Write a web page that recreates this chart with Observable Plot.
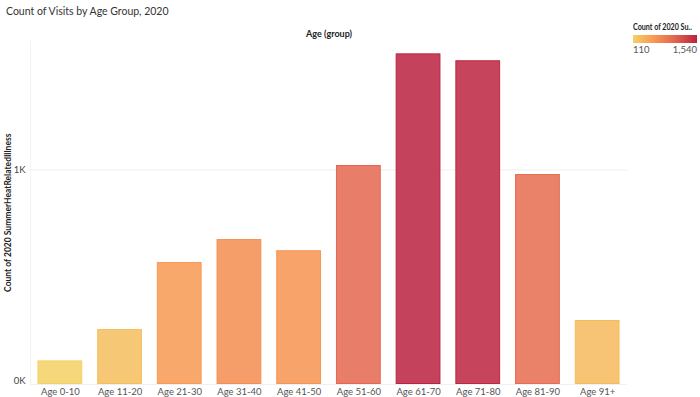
<!DOCTYPE html>
<html><head><meta charset="utf-8">
<script src="https://cdn.jsdelivr.net/npm/d3@7"></script>
<script src="https://cdn.jsdelivr.net/npm/@observablehq/plot@0.6"></script>
<style>
body{margin:0;background:#fff;font-family:Lato,"Open Sans",sans-serif;}
#wrap{position:relative;width:700px;height:397px;overflow:hidden;background:#fff}
#title{position:absolute;left:6px;top:5px;font-size:10.5px;color:#333;white-space:nowrap}
#chart{position:absolute;left:0;top:22px}
#legend{position:absolute;left:633px;top:22px;width:66px;font-size:9px;color:#555}
#legend .lt{font-weight:bold;color:#222;white-space:nowrap;font-size:8.5px;transform:scaleX(0.84);transform-origin:left center}
#ramp{width:64px;height:8px;margin-top:3px}
#legend .ll{display:flex;justify-content:space-between;width:64px;margin-top:1px;font-size:9.5px}
</style></head>
<body>
<div id="wrap">
  <div id="title">Count of Visits by Age Group, 2020</div>
  <div id="chart"></div>
  <div id="legend"><div class="lt">Count of 2020 Su..</div><div id="ramp"></div><div class="ll"><span id="lmin"></span><span id="lmax"></span></div></div>
</div>
<script>
const ageGroups = ["Age 0-10","Age 11-20","Age 21-30","Age 31-40","Age 41-50","Age 51-60","Age 61-70","Age 71-80","Age 81-90","Age 91+"];
const visits = [110, 256, 568, 675, 623, 1020, 1540, 1508, 978, 298];
const yTicks = [0, 1000];
const colorStops = ["#f4d166", "#f89852", "#e36650", "#ba2340"];
const stopPos = [0, 0.33, 0.65, 1];

const data = ageGroups.map((a, i) => ({age: a, visits: visits[i]}));
const vmin = d3.min(visits), vmax = d3.max(visits);
const colorDomain = stopPos.map(t => vmin + t * (vmax - vmin));
const fmtK = d => d / 1000 + "K";

const chart = Plot.plot({
  width: 700, height: 375,
  marginLeft: 30, marginRight: 73, marginTop: 18.5, marginBottom: 13,
  style: {fontFamily: "Lato, 'Open Sans', sans-serif", fontSize: "9.5px", color: "#555", background: "transparent"},
  x: {domain: ageGroups, paddingInner: 0.25, paddingOuter: 0.125, round: false, label: null, tickSize: 0, tickPadding: 4},
  y: {domain: [0, 1600], label: null, axis: null},
  color: {type: "linear", domain: colorDomain, range: colorStops, interpolate: "rgb"},
  marks: [
    Plot.ruleY(yTicks, {stroke: "#f0f0f0"}),
    Plot.frame({anchor: "left", stroke: "#f3f3f3"}),
    Plot.axisY([yTicks[1]], {tickSize: 0, tickPadding: 5, tickFormat: fmtK, label: null, fill: "#444"}),
    Plot.axisY([yTicks[0]], {tickSize: 0, tickPadding: 5, tickFormat: fmtK, label: null, fill: "#444", dy: -4}),
    Plot.barY(data, {x: "age", y: "visits", fill: "visits", fillOpacity: 0.86, stroke: "visits", strokeWidth: 1, inset: 0.5}),
    Plot.text(["Age (group)"], {frameAnchor: "top", dy: -10.5, fontWeight: "bold", fill: "#222", fontSize: 9}),
    Plot.text(["Count of 2020 SummerHeatRelatedIllness"], {frameAnchor: "left", dx: -22, rotate: -90, textAnchor: "middle", fontWeight: "bold", fill: "#222", fontSize: 8.5})
  ]
});
document.getElementById("chart").appendChild(chart);

const interp = d3.scaleLinear().domain(stopPos).range(colorStops).interpolate(d3.interpolateRgb);
const grad = d3.range(0, 1.0001, 0.1).map(t => `${interp(t)} ${Math.round(t*100)}%`).join(",");
document.getElementById("ramp").style.background = `linear-gradient(to right, ${grad})`;
document.getElementById("lmin").textContent = d3.format(",")(vmin);
document.getElementById("lmax").textContent = d3.format(",")(vmax);
</script>
</body></html>
